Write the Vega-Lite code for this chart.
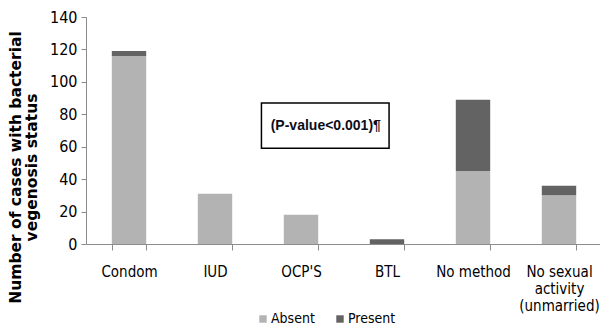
{
  "$schema": "https://vega.github.io/schema/vega-lite/v6.json",
  "width": 516,
  "height": 227,
  "autosize": {"type": "none"},
  "padding": {"left": 86, "top": 17, "right": 0, "bottom": 84},
  "config": {
    "view": {"stroke": null},
    "font": "DejaVu Sans Condensed",
    "axis": {"grid": false, "labelOverlap": false, "domainColor": "#8c8c8c", "tickColor": "#8c8c8c", "labelColor": "#000", "labelFont": "DejaVu Sans Condensed", "labelFontSize": 15},
    "axisY": {"labelFontSize": 16, "tickSize": 5, "labelPadding": 4, "titleFont": "DejaVu Sans", "titleFontWeight": "bold", "titleFontSize": 15.5, "titleColor": "#000", "titleLineHeight": 16, "titlePadding": 10, "titleY": 150},
    "axisX": {"labelAngle": 0, "tickBand": "extent", "tickSize": 6, "labelPadding": 14, "labelBaseline": "top", "labelLineHeight": 17}
  },
  "datasets": {
    "bars": [
      {"method": "Condom", "status": "Absent", "count": 116},
      {"method": "Condom", "status": "Present", "count": 3},
      {"method": "IUD", "status": "Absent", "count": 31},
      {"method": "IUD", "status": "Present", "count": 0},
      {"method": "OCP'S", "status": "Absent", "count": 18},
      {"method": "OCP'S", "status": "Present", "count": 0},
      {"method": "BTL", "status": "Absent", "count": 0},
      {"method": "BTL", "status": "Present", "count": 3},
      {"method": "No method", "status": "Absent", "count": 45},
      {"method": "No method", "status": "Present", "count": 44},
      {"method": "No sexual activity (unmarried)", "status": "Absent", "count": 30},
      {"method": "No sexual activity (unmarried)", "status": "Present", "count": 6}
    ],
    "note": [
      {"from": "OCP'S", "to": "BTL", "top": 87, "bottom": 59, "mid": 73, "label": "(P-value<0.001)¶"}
    ]
  },
  "layer": [
    {
      "data": {"name": "bars"},
      "mark": {"type": "bar"},
      "encoding": {
        "x": {
          "field": "method", "type": "nominal",
          "scale": {"domain": ["Condom", "IUD", "OCP'S", "BTL", "No method", "No sexual activity (unmarried)"], "paddingInner": 0.6, "paddingOuter": 0.3},
          "axis": {
            "title": null,
            "labelExpr": "datum.value == 'No sexual activity (unmarried)' ? ['No sexual', 'activity', '(unmarried)'] : datum.value"
          }
        },
        "y": {
          "field": "count", "type": "quantitative", "stack": "zero",
          "scale": {"domain": [0, 140], "nice": false},
          "axis": {
            "values": [0, 20, 40, 60, 80, 100, 120, 140],
            "title": ["Number of cases with bacterial", "vegenosis status"]
          }
        },
        "color": {
          "field": "status", "type": "nominal",
          "scale": {"domain": ["Absent", "Present"], "range": ["#b3b3b3", "#636363"]},
          "legend": {
            "title": null, "orient": "none", "direction": "horizontal",
            "legendX": 170, "legendY": 295,
            "symbolType": "square", "symbolSize": 55, "symbolStrokeWidth": 0,
            "labelFont": "DejaVu Sans Condensed", "labelFontSize": 14, "labelColor": "#000", "columnPadding": 18, "labelOffset": 1
          }
        },
        "order": {"field": "status", "sort": "ascending"}
      }
    },
    {
      "data": {"name": "note"},
      "mark": {"type": "rect", "fill": "white", "stroke": "black", "strokeWidth": 1.5},
      "encoding": {
        "x": {"field": "from", "type": "nominal", "bandPosition": -0.65,
          "axis": {
            "title": null,
            "labelExpr": "datum.value == 'No sexual activity (unmarried)' ? ['No sexual', 'activity', '(unmarried)'] : datum.value"
          }},
        "x2": {"field": "to", "bandPosition": 0.56},
        "y": {"field": "top", "type": "quantitative",
          "axis": {
            "values": [0, 20, 40, 60, 80, 100, 120, 140],
            "title": ["Number of cases with bacterial", "vegenosis status"]
          }},
        "y2": {"field": "bottom"}
      }
    },
    {
      "data": {"name": "note"},
      "mark": {"type": "text", "font": "Liberation Sans", "fontWeight": "bold", "fontSize": 14, "color": "#0d0d1a", "align": "center", "baseline": "middle"},
      "encoding": {
        "x": {"field": "from", "type": "nominal", "bandPosition": 1.22,
          "axis": {
            "title": null,
            "labelExpr": "datum.value == 'No sexual activity (unmarried)' ? ['No sexual', 'activity', '(unmarried)'] : datum.value"
          }},
        "y": {"field": "mid", "type": "quantitative",
          "axis": {
            "values": [0, 20, 40, 60, 80, 100, 120, 140],
            "title": ["Number of cases with bacterial", "vegenosis status"]
          }},
        "text": {"field": "label"}
      }
    }
  ]
}
